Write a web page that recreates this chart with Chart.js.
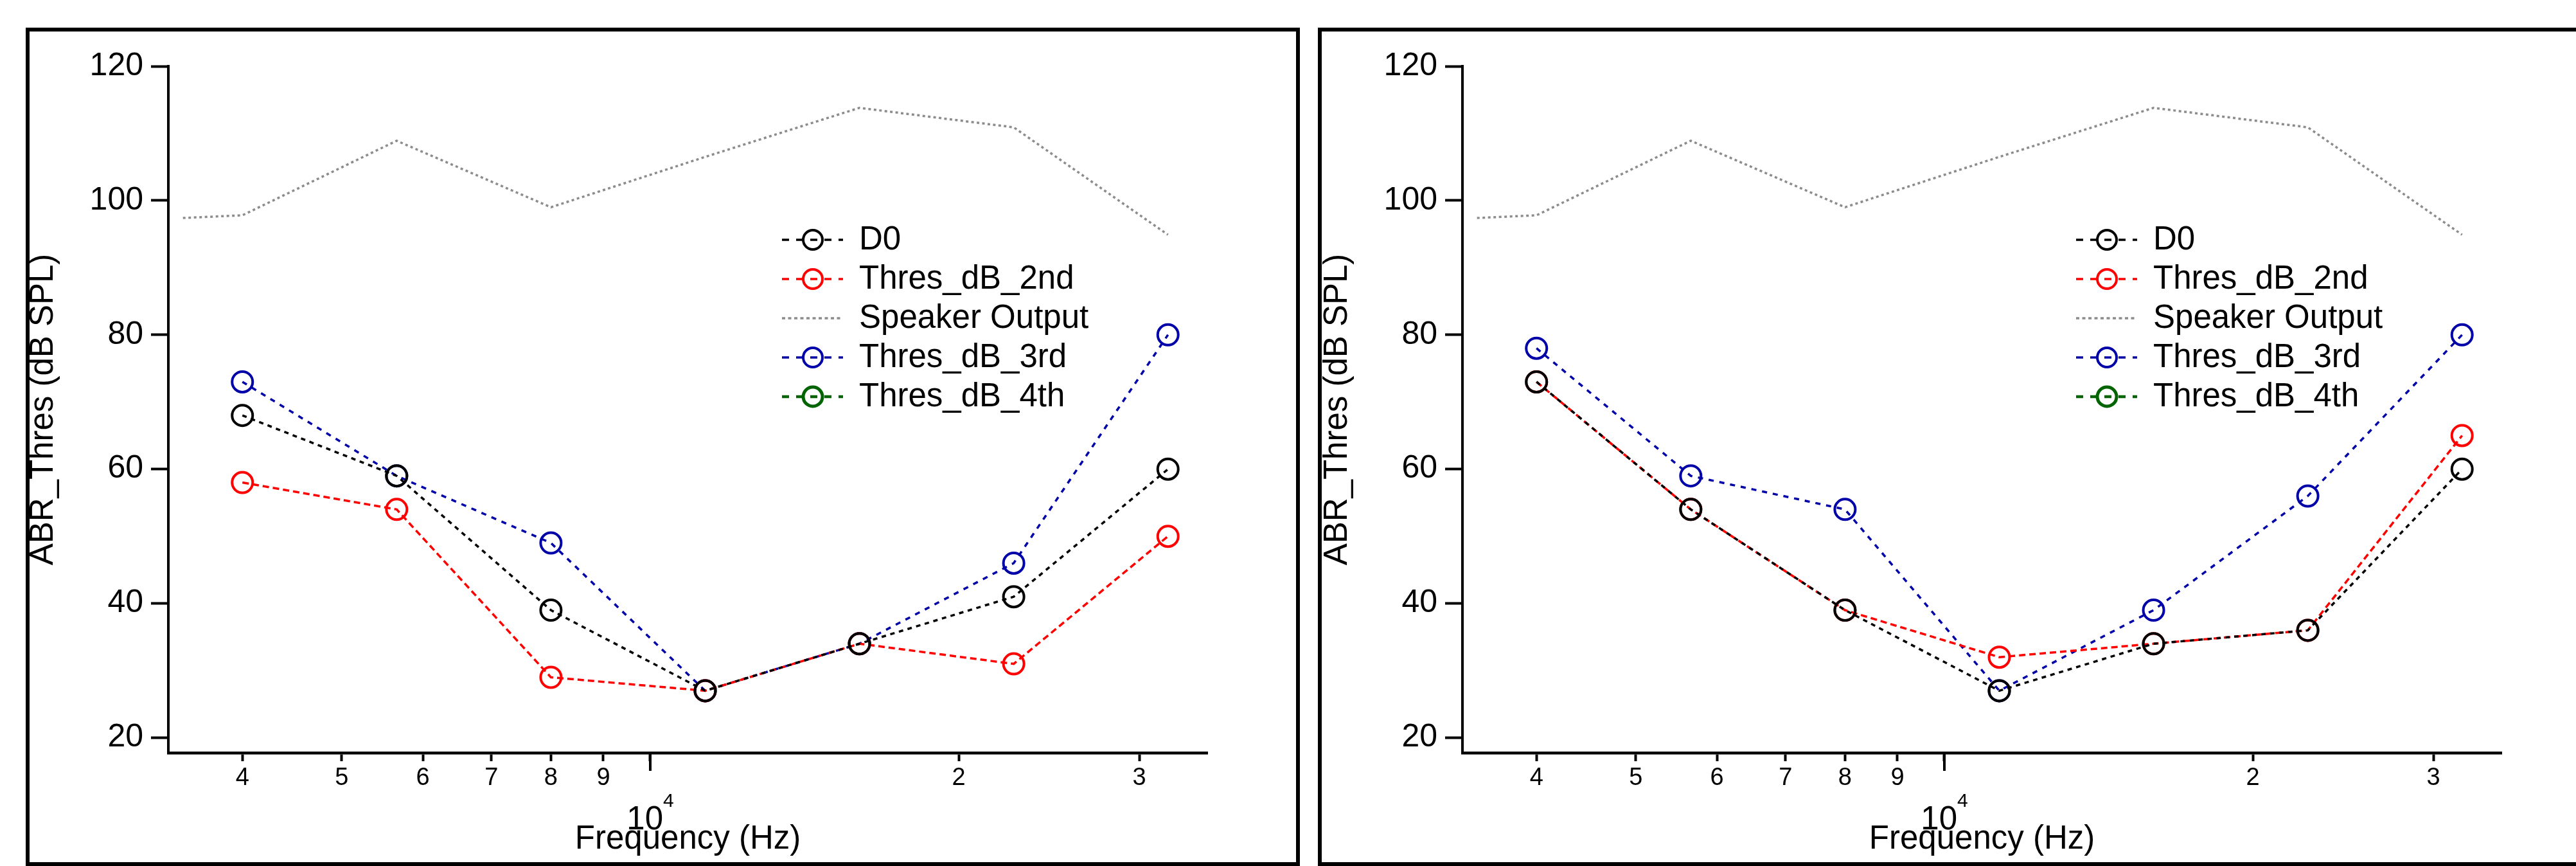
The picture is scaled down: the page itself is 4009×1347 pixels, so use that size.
<!DOCTYPE html>
<html>
<head>
<meta charset="utf-8">
<title>ABR thresholds</title>
<script src="https://cdn.jsdelivr.net/npm/chart.js"></script>
<style>
  html, body { margin: 0; padding: 0; background: #fff; }
  body { width: 4009px; height: 1347px; overflow: hidden; position: relative; }
  canvas { position: absolute; top: 0; }
  .frame { position: absolute; box-sizing: border-box; border: 6px solid #000; pointer-events: none; }
</style>
</head>
<body>
<canvas id="leftChart" width="2014" height="1347" style="left:0"></canvas>
<canvas id="rightChart" width="2014" height="1347" style="left:2014px"></canvas>
<div class="frame" style="left:40px;top:43px;width:1983px;height:1304px"></div>
<div class="frame" style="left:2051px;top:43px;width:2000px;height:1304px"></div>
<script>
// test frequencies (Hz), half-octave steps
const freqs = [4000, 5657, 8000, 11314, 16000, 22627, 32000];

// speaker calibration (same in both panels)
const speakerFreqs = [3500, 4000, 5657, 8000, 11314, 16000, 22627, 32000];
const speakerLevel = [97.4, 97.8, 108.9, 99.0, 106.5, 113.8, 110.9, 94.9];

// left panel thresholds (dB SPL)
const leftD0 = [68, 59, 39, 27, 34, 41, 60];
const left2nd = [58, 54, 29, 27, 34, 31, 50];
const left3rd = [73, 59, 49, 27, 34, 46, 80];
const left4th = [];

// right panel thresholds (dB SPL)
const rightD0 = [73, 54, 39, 27, 34, 36, 60];
const right2nd = [73, 54, 39, 32, 34, 36, 65];
const right3rd = [78, 59, 54, 27, 39, 56, 80];
const right4th = [];

const seriesNames = ['D0', 'Thres_dB_2nd', 'Speaker Output', 'Thres_dB_3rd', 'Thres_dB_4th'];
const xTicks = [4000, 5000, 6000, 7000, 8000, 9000, 10000, 20000, 30000];
const xTickLabels = ['4', '5', '6', '7', '8', '9', '', '2', '3'];
const yTicks = [20, 40, 60, 80, 100, 120];

const FONT = '"Liberation Sans", Arial, sans-serif';
Chart.defaults.font.family = FONT;
Chart.defaults.color = '#000';

const toPts = (xs, ys) => ys.map((y, i) => ({ x: xs[i], y: y }));

function threshSet(label, values, color, dash, lw) {
  return {
    label: label,
    data: toPts(freqs, values),
    showLine: true,
    borderColor: color,
    borderWidth: lw,
    borderDash: dash,
    legendDash: [11, 11],
    pointStyle: 'circle',
    pointRadius: 16,
    pointHoverRadius: 16,
    pointBorderWidth: lw + 0.5,
    pointBorderColor: color,
    pointBackgroundColor: 'rgba(0,0,0,0)'
  };
}

function speakerSet() {
  return {
    label: seriesNames[2],
    data: toPts(speakerFreqs, speakerLevel),
    showLine: true,
    borderColor: '#8c8c8c',
    borderWidth: 3.5,
    borderDash: [4, 4.5],
    legendDash: [5, 4.5],
    pointRadius: 0,
    pointHoverRadius: 0
  };
}

// legend, the 10^4 label and the longer decade tick, drawn Igor style
const igorExtras = {
  id: 'igorExtras',
  afterDraw(chart) {
    const ctx = chart.ctx;
    const xs = chart.scales.x;
    const px = xs.getPixelForValue(10000);
    ctx.save();

    ctx.strokeStyle = '#000';
    ctx.lineWidth = 4;
    ctx.beginPath();
    ctx.moveTo(px, xs.top);
    ctx.lineTo(px, xs.top + 28);
    ctx.stroke();

    ctx.fillStyle = '#000';
    ctx.textBaseline = 'alphabetic';
    ctx.textAlign = 'left';
    ctx.font = '51px ' + FONT;
    const w10 = ctx.measureText('10').width;
    ctx.font = '30px ' + FONT;
    const w4 = ctx.measureText('4').width;
    const start = px - (w10 + w4) / 2;
    ctx.font = '51px ' + FONT;
    ctx.fillText('10', start, 1290);
    ctx.font = '30px ' + FONT;
    ctx.fillText('4', start + w10, 1255);

    // legend
    const lx = 1217, tx = 1337, ly = 373, row = 61, len = 95;
    chart.data.datasets.forEach((ds, i) => {
      const y = ly + i * row;
      ctx.strokeStyle = ds.borderColor;
      ctx.lineWidth = ds.borderWidth;
      ctx.setLineDash(ds.legendDash || []);
      ctx.beginPath();
      ctx.moveTo(lx, y);
      ctx.lineTo(lx + len, y);
      ctx.stroke();
      ctx.setLineDash([]);
      if (ds.pointRadius > 0) {
        ctx.lineWidth = ds.pointBorderWidth;
        ctx.beginPath();
        ctx.arc(lx + 48, y, 15, 0, Math.PI * 2);
        ctx.stroke();
      }
      ctx.fillStyle = '#000';
      ctx.font = '51px ' + FONT;
      ctx.textBaseline = 'middle';
      ctx.fillText(ds.label, tx, y + 1);
    });
    ctx.restore();
  }
};

function makeChart(id, d0, d2, d3, d4) {
  const ctx = document.getElementById(id).getContext('2d');
  return new Chart(ctx, {
    type: 'scatter',
    data: {
      datasets: [
        threshSet(seriesNames[0], d0, '#000000', [7, 7], 3.5),
        threshSet(seriesNames[1], d2, '#ff0000', [10, 6], 3.5),
        speakerSet(),
        threshSet(seriesNames[3], d3, '#0000a8', [8, 9], 3.5),
        threshSet(seriesNames[4], d4, '#006400', [9, 6], 4.5)
      ]
    },
    options: {
      responsive: false,
      devicePixelRatio: 1,
      animation: false,
      layout: { padding: { left: 0, top: 103, right: 135, bottom: 0 } },
      plugins: { legend: { display: false }, tooltip: { enabled: false } },
      scales: {
        x: {
          type: 'logarithmic',
          min: 3387,
          max: 34960,
          bounds: 'data',
          afterBuildTicks: (scale) => { scale.ticks = xTicks.map(v => ({ value: v })); },
          afterFit: (scale) => { scale.height = 176; },
          ticks: {
            autoSkip: false,
            maxRotation: 0,
            padding: 4,
            font: { size: 38 },
            callback: (value) => {
              const i = xTicks.indexOf(value);
              return i >= 0 ? xTickLabels[i] : '';
            }
          },
          grid: { display: true, drawOnChartArea: false, drawTicks: true, tickLength: 13, tickWidth: 4, tickColor: '#000' },
          border: { display: true, color: '#000', width: 4.5 },
          title: { display: true, text: 'Frequency (Hz)', font: { size: 51 }, padding: { top: 0, bottom: 10 } }
        },
        y: {
          type: 'linear',
          min: 17.75,
          max: 120,
          afterBuildTicks: (scale) => { scale.ticks = yTicks.map(v => ({ value: v })); },
          afterFit: (scale) => { scale.width = 262; },
          ticks: { padding: 12, font: { size: 50 } },
          grid: { display: true, drawOnChartArea: false, drawTicks: true, tickLength: 27, tickWidth: 4, tickColor: '#000' },
          border: { display: true, color: '#000', width: 4 },
          title: { display: true, text: 'ABR_Thres (dB SPL)', font: { size: 51 }, padding: { top: 37, bottom: 0 } }
        }
      }
    },
    plugins: [igorExtras]
  });
}

makeChart('leftChart', leftD0, left2nd, left3rd, left4th);
makeChart('rightChart', rightD0, right2nd, right3rd, right4th);
</script>
</body>
</html>
